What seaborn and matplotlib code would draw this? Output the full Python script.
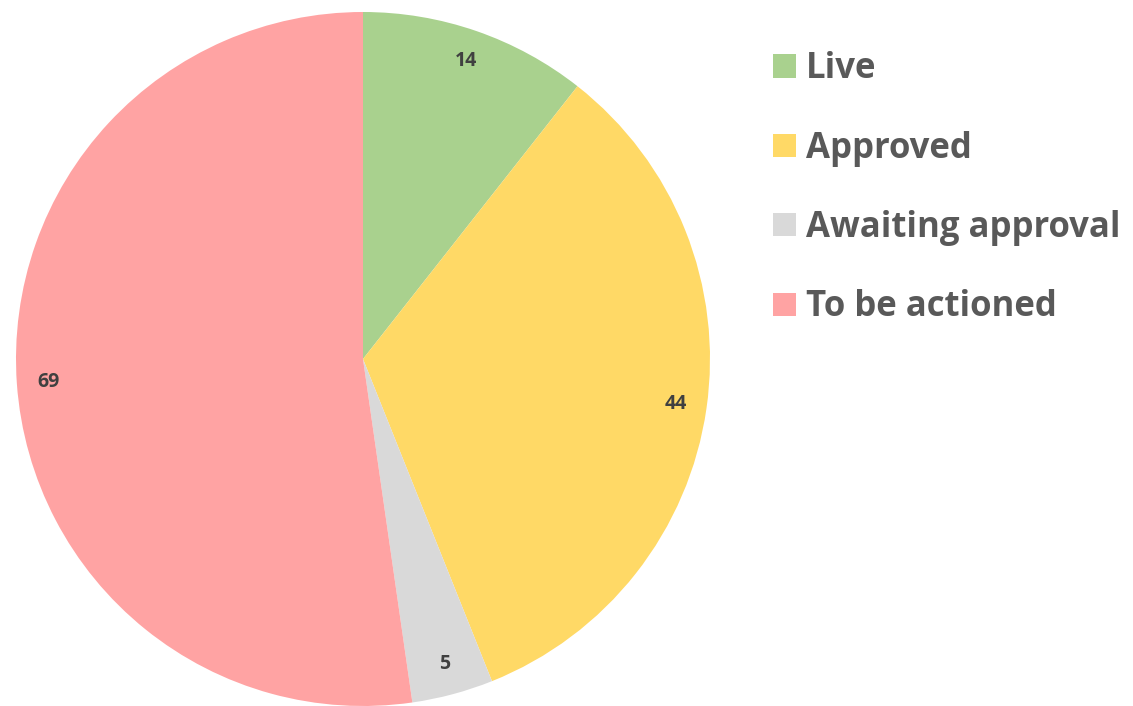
import matplotlib
matplotlib.use("Agg")
import matplotlib.pyplot as plt
import seaborn as sns
from matplotlib.patches import Patch

# data
statuses = ["Live", "Approved", "Awaiting approval", "To be actioned"]
counts = [14, 44, 5, 69]
colours = ["#A9D18E", "#FFD966", "#D9D9D9", "#FFA3A3"]

sns.set_style("white")
plt.rcParams['font.family'] = ['Open Sans', 'DejaVu Sans']

fig = plt.figure(figsize=(11.33, 7.06), dpi=100)
ax = fig.add_axes([16 / 1133, 0, 694 / 1133, 694 / 706])

wedges, texts, autotexts = ax.pie(
    counts,
    colors=colours,
    startangle=90,
    counterclock=False,
    autopct=lambda p: f"{round(p * sum(counts) / 100):d}",
    pctdistance=0.91,
    wedgeprops=dict(linewidth=0),
    textprops=dict(fontsize=14, fontweight="bold", color="#404040"),
)
ax.set_aspect("equal")
ax.set_xlim(-1, 1)
ax.set_ylim(-1, 1)

handles = [Patch(facecolor=c, edgecolor="none") for c in colours]
leg = fig.legend(
    handles, statuses,
    loc="upper left",
    bbox_to_anchor=(742 / 1133, 1 - 20 / 706),
    frameon=False,
    prop=dict(size=25, weight="bold"),
    labelcolor="#595959",
    handlelength=0.65,
    handleheight=0.65,
    handletextpad=0.3,
    labelspacing=1.25,
)

fig.savefig("out.png", dpi=100)
